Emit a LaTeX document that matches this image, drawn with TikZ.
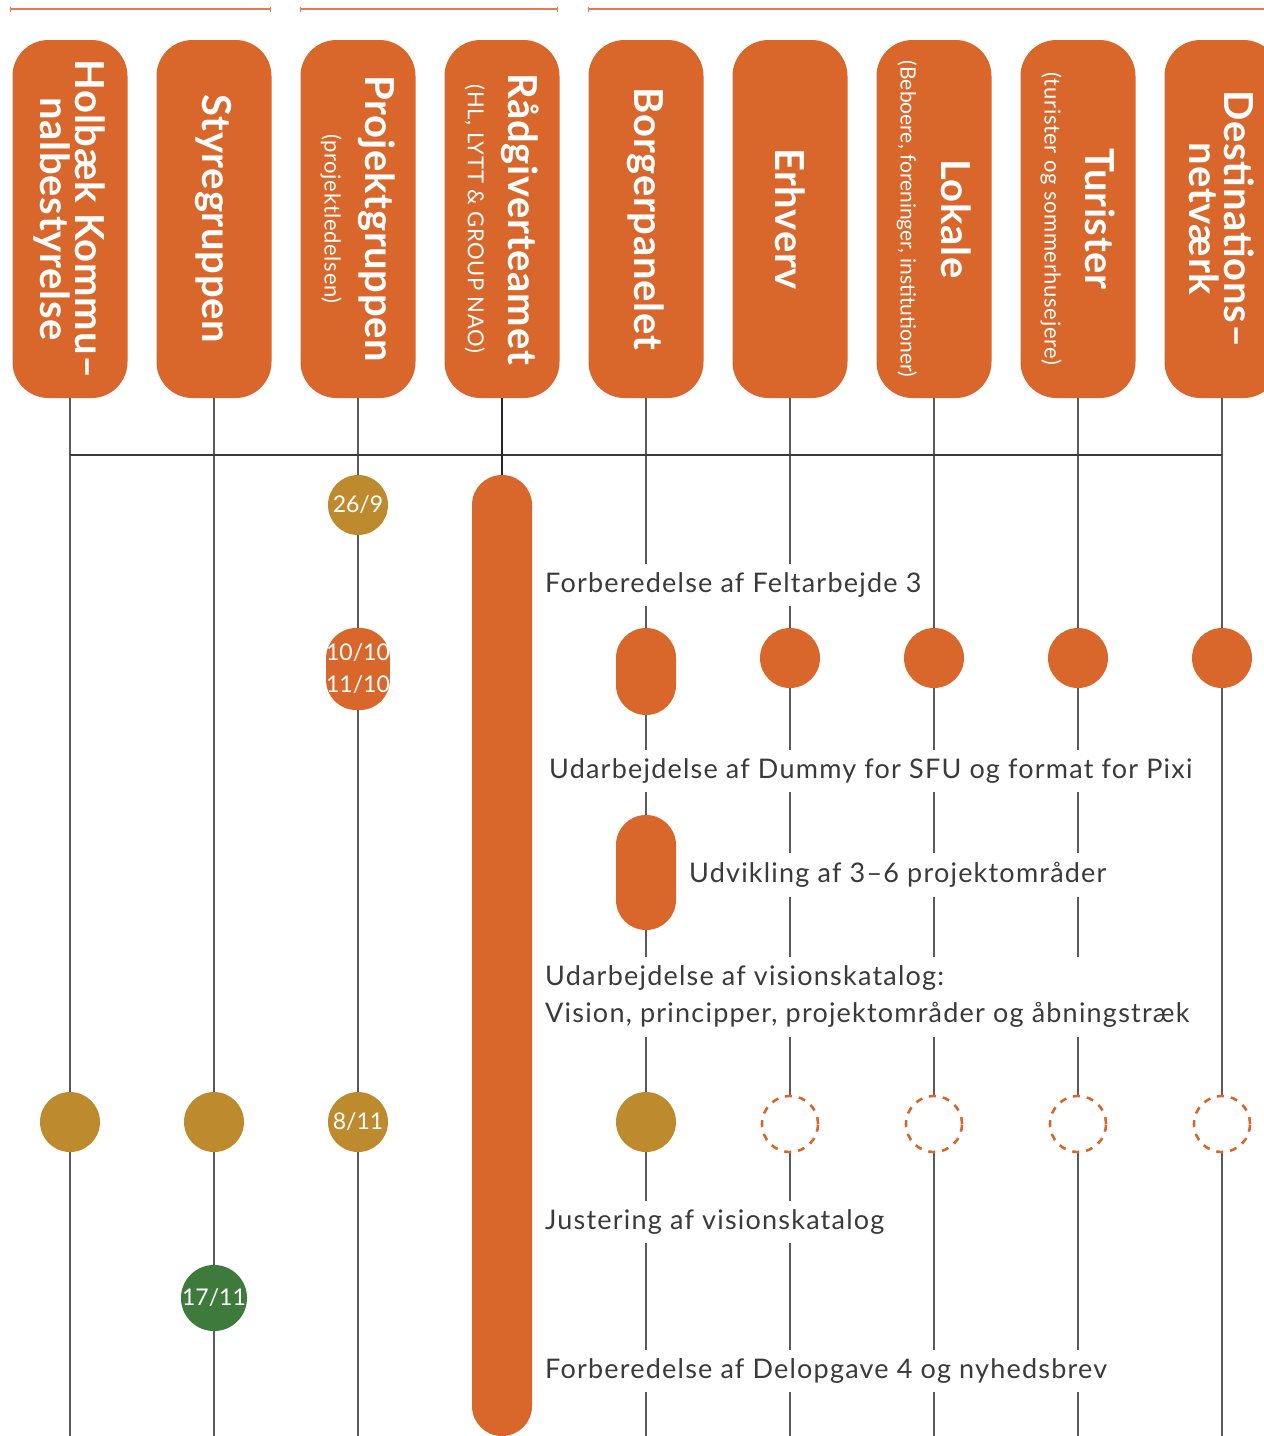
\documentclass[tikz,border=0pt]{standalone}
\usepackage{fontspec}
\setmainfont{Lato}
\newfontfamily\lblfont{Lato}[LetterSpace=4.5]
\newfontfamily\hdrfont{Lato}[LetterSpace=1.8]
\newfontfamily\subfont{Lato}[LetterSpace=3]
\usetikzlibrary{arrows.meta}
\definecolor{orng}{HTML}{D9672B}
\definecolor{gold}{HTML}{BD8A2D}
\definecolor{grn}{HTML}{3E7A3C}
\definecolor{lgray}{HTML}{5A5A5A}
\definecolor{txt}{HTML}{3A3A3A}
\newcommand{\hbig}{\fontsize{40}{35}\hdrfont\bfseries}
\newcommand{\hsub}{\fontsize{22}{41}\subfont\mdseries}
\newcommand{\hsubn}{\fontsize{21}{41}\rmfamily\mdseries}
\begin{document}
\begin{tikzpicture}[x=1pt,y=-1pt,
  hdr/.style={fill=orng, draw=none, rounded corners=36pt, minimum width=115pt, minimum height=358pt, inner sep=0pt},
  htext/.style={rotate=-90, text=white, align=center, inner sep=0pt, font=\fontsize{40}{35}\hdrfont\bfseries},
  htextsub/.style={htext, font=\fontsize{40}{41}\hdrfont\bfseries},
  vline/.style={draw=lgray, line width=1.2pt},
  topl/.style={draw=orng!85, line width=1.3pt, {Bar[width=5pt]}-{Bar[width=5pt]}},
  dot/.style={circle, minimum size=60pt, inner sep=0pt, text=white, font=\fontsize{23}{32}\selectfont},
  gdot/.style={dot, fill=gold},
  odot/.style={dot, fill=orng},
  grdot/.style={dot, fill=grn},
  pill/.style={fill=orng, rounded corners=29.9pt, minimum width=60pt, inner sep=0pt, text=white, align=center, font=\fontsize{23}{32}\selectfont},
  dcirc/.style={circle, minimum size=56pt, inner sep=0pt, fill=white, draw=orng, line width=2.6pt, dash pattern=on 7pt off 7pt},
  lbl/.style={anchor=west, fill=white, text=txt, inner xsep=4pt, inner ysep=9pt, align=left, font=\fontsize{27}{37}\lblfont}
]
\useasboundingbox (0,0) rectangle (1264,1436);

% top bracket lines
\coordinate (ta1) at (10,9); \coordinate (tb1) at (271,9);
\coordinate (ta2) at (300,9); \coordinate (tb2) at (558,9);
\coordinate (ta3) at (588,9); \coordinate (tb3) at (1270,9);
\draw[topl] (ta1) -- (tb1);
\draw[topl] (ta2) -- (tb2);
\draw[topl, {Bar[width=5pt]}-] (ta3) -- (tb3);

% header boxes
\foreach \i/\x in {1/70,2/214,3/358,4/502,5/646,6/790,7/934,8/1078,9/1222}{
  \node[hdr] (h\i) at (\x,219) {};
  \coordinate (e\i) at (\x,1440);
}

% vertical lines
\foreach \i in {1,2,3,5,6,7,8,9}{
  \draw[vline] (h\i.south) -- (e\i);
}
% horizontal connector
\coordinate (hl) at (70,455);
\coordinate (hr) at (1222,455);
\draw[draw=txt, line width=1.3pt] (hl) -- (hr);

% header texts
\node[htext] (t1) at (h1.center) {\hbig Holbæk Kommu–\\\hbig nalbestyrelse};
\node[htext] (t2) at (h2.center) {\hbig Styregruppen};
\node[htextsub] (t3) at (h3.center) {\hbig Projektgruppen\\\hsub (projektledelsen)};
\node[htextsub] (t4) at (h4.center) {\hbig Rådgiverteamet\\\hsub (HL, LYTT \& GROUP NAO)};
\node[htext] (t5) at (h5.center) {\hbig Borgerpanelet};
\node[htext] (t6) at (h6.center) {\hbig Erhverv};
\node[htextsub] (t7) at (h7.center) {\hbig Lokale\\\hsubn (Beboere, foreninger, institutioner)};
\node[htextsub] (t8) at (h8.center) {\hbig Turister\\\hsub (turister og sommerhusejere)};
\node[htext] (t9) at (h9.center) {\hbig Destinations–\\\hbig netværk};

% consultant bar
\node[fill=orng, rounded corners=29.9pt, minimum width=60pt, minimum height=961pt, inner sep=0pt] (bar) at (502,955.5) {};
\draw[draw=black!85, line width=2.6pt] (h4.south) -- (bar.north);

% labels
\node[lbl] (l1) at (541,585) {Forberedelse af Feltarbejde 3};
\node[lbl] (l2) at (545,771) {Udarbejdelse af Dummy for SFU og format for Pixi};
\node[lbl] (l3) at (685,875) {Udvikling af 3–6 projektområder};
\node[lbl] (l4) at (541,997) {Udarbejdelse af visionskatalog:\\Vision, principper, projektområder og åbningstræk};
\node[lbl] (l5) at (541,1222) {Justering af visionskatalog};
\node[lbl] (l6) at (541,1371) {Forberedelse af Delopgave 4 og nyhedsbrev};

% events
\node[gdot] (d269) at (358,505) {26/9};
\node[pill, minimum height=82pt] (d1010) at (358,669) {10/10\\11/10};
\node[pill, minimum height=87pt] (bp1) at (646,671.5) {};
\node[odot] (o6) at (790,658) {};
\node[odot] (o7) at (934,658) {};
\node[odot] (o8) at (1078,658) {};
\node[odot] (o9) at (1222,658) {};
\node[pill, minimum height=115pt] (bp2) at (646,872.5) {};

\node[gdot] (g1) at (70,1122) {};
\node[gdot] (g2) at (214,1122) {};
\node[gdot] (g3) at (358,1122) {8/11};
\node[gdot] (g5) at (646,1122) {};
\node[dcirc] (c6) at (790,1124) {};
\node[dcirc] (c7) at (934,1124) {};
\node[dcirc] (c8) at (1078,1124) {};
\node[dcirc] (c9) at (1222,1124) {};

\node[grdot] (d1711) at (214,1298) {17/11};
\end{tikzpicture}
\end{document}
